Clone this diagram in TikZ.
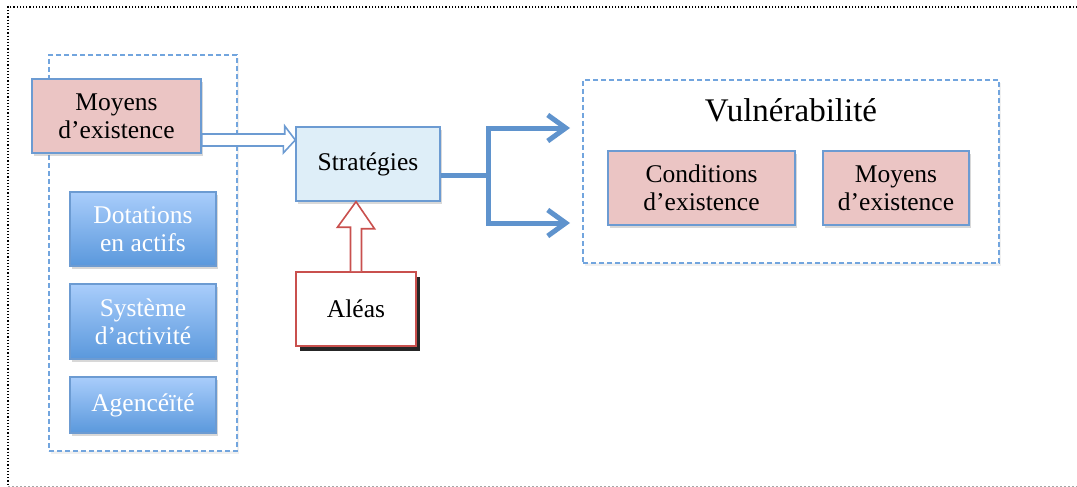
\documentclass[tikz,border=0pt]{standalone}
\usepackage{fontspec}
\setmainfont{Liberation Serif}
\usetikzlibrary{shapes.geometric, arrows.meta, positioning, shadows, calc}

\definecolor{boxblue}{RGB}{108,155,210}
\definecolor{dashblue}{RGB}{114,165,222}
\definecolor{forkblue}{RGB}{95,147,205}
\definecolor{pinkfill}{RGB}{235,197,196}
\definecolor{stratfill}{RGB}{222,238,248}
\definecolor{gradtop}{RGB}{169,205,251}
\definecolor{gradbot}{RGB}{90,152,220}
\definecolor{redline}{RGB}{201,80,78}

\tikzset{
  txt/.style={font=\fontsize{25.5}{28}\selectfont, align=center, inner sep=0pt},
  softshadow/.style={drop shadow={shadow xshift=2pt, shadow yshift=-3pt, opacity=0.3}},
  pinkbox/.style={txt, draw=boxblue, fill=pinkfill, line width=1.4pt, softshadow},
  stratbox/.style={txt, draw=boxblue, fill=stratfill, line width=1.4pt, softshadow},
  gradbox/.style={txt, text=white, draw=boxblue, line width=1.2pt,
    top color=gradtop, bottom color=gradbot, minimum width=146pt, softshadow},
  aleasbox/.style={txt, draw=redline, fill=white, line width=1.6pt,
    drop shadow={shadow xshift=4pt, shadow yshift=-5pt, opacity=0.85, fill=black}},
  groupbox/.style={draw=dashblue, fill=white, line width=1.4pt, dash pattern=on 5pt off 3pt,
    drop shadow={shadow xshift=2pt, shadow yshift=-3pt, opacity=0.12}},
  hollowblue/.style={draw=boxblue, fill=white, line width=1.6pt, line join=miter},
  hollowred/.style={draw=redline, fill=white, line width=1.6pt, line join=miter},
  fork/.style={draw=forkblue, line width=5pt, line join=miter}
}

\begin{document}
\begin{tikzpicture}[x=1pt,y=-1pt]
\useasboundingbox (0,0) rectangle (1077,487);

% outer frame
\draw[line width=1.2pt, dotted] (1077,7) -- (8,7) -- (8,487);
\draw[gray!70, line width=1pt, dash pattern=on 2pt off 2pt] (8,486) -- (1077,486);

% left group
\node[groupbox, minimum width=188pt, minimum height=396pt] (grp) at (143,253) {};
\node[pinkbox, minimum width=169pt, minimum height=74pt] (moy) at (116.5,116) {Moyens\\d’existence};
\node[gradbox, minimum height=74pt] (dot) at (143,229) {Dotations\\en actifs};
\node[gradbox, minimum height=75pt] (sys) at (143,321.5) {Système\\d’activité};
\node[gradbox, minimum height=56pt] (agen) at (143,405) {Agencéïté};

% centre
\node[stratbox, minimum width=144pt, minimum height=74pt] (strat) at (368,164) {Stratégies};
\node[aleasbox, minimum width=120pt, minimum height=74pt] (aleas) at (356,309) {Aléas};

% right group
\node[groupbox, minimum width=416pt, minimum height=183pt] (vuln) at (791,171.5) {};
\node[font=\fontsize{33}{37}\selectfont] (vtitle) at (791,110) {Vulnérabilité};
\node[pinkbox, minimum width=187pt, minimum height=74pt] (cond) at (701.5,188) {Conditions\\d’existence};
\node[pinkbox, minimum width=146pt, minimum height=74pt] (moyb) at (896,188) {Moyens\\d’existence};

% hollow arrows
\draw[hollowblue] (moy.east |- 0,134) -- ++(83,0) -- ++(0,-8) -- (strat.west |- 0,140)
  -- ++(-12,13) -- ++(0,-7) -- (moy.east |- 0,146) -- cycle;
\draw[hollowred] ([xshift=-5.5pt]aleas.north) -- ++(0,-44) -- ++(-13,0)
  -- (aleas.north |- strat.south) -- ++(18.5,27) -- ++(-13,0) -- ([xshift=5.5pt]aleas.north);

% fork towards vulnerability
\coordinate (tipa) at (570,128);
\coordinate (tipb) at (570,223);
\draw[fork] (strat.east |- 0,175) -- (488,175);
\draw[fork, {Straight Barb[length=18pt,width=26pt]}-{Straight Barb[length=18pt,width=26pt]}]
  (tipa) -- (tipa -| 488,0) -- (tipb -| 488,0) -- (tipb);
\end{tikzpicture}
\end{document}
